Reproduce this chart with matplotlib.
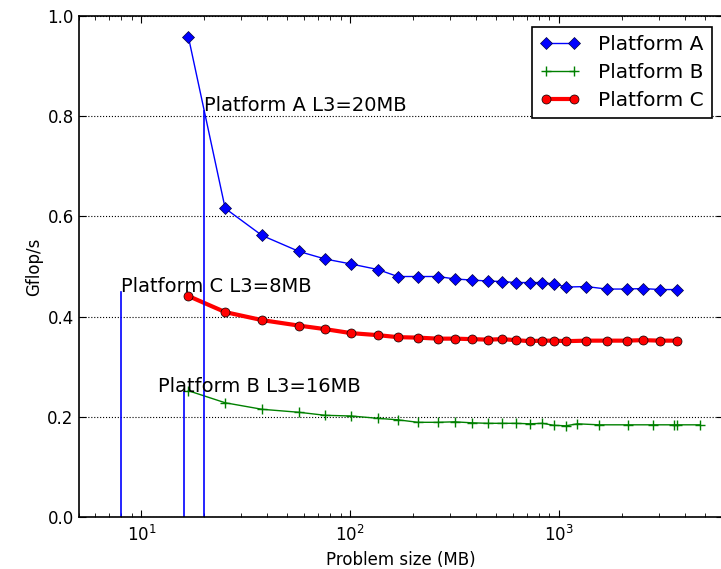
import matplotlib
matplotlib.use("Agg")
import matplotlib.pyplot as plt

# Data
size_ac = [16.8, 25.2, 37.8, 56.9, 75.8, 101, 135.5, 169, 211, 263, 319, 382, 457,
           533, 620, 724, 829, 946, 1085, 1353, 1688, 2105, 2528, 3041, 3657]
gflops_a = [0.958, 0.616, 0.562, 0.530, 0.515, 0.505, 0.494, 0.480, 0.480, 0.480,
            0.475, 0.473, 0.471, 0.470, 0.468, 0.468, 0.468, 0.465, 0.459, 0.460,
            0.455, 0.455, 0.456, 0.454, 0.454]
gflops_c = [0.441, 0.409, 0.393, 0.382, 0.375, 0.367, 0.363, 0.359, 0.358, 0.356,
            0.356, 0.355, 0.354, 0.355, 0.353, 0.351, 0.352, 0.352, 0.351, 0.352,
            0.352, 0.352, 0.353, 0.352, 0.352]
size_b = [16.8, 25.2, 37.8, 56.9, 75.8, 101, 135.5, 169, 211, 263, 316, 382, 457,
          533, 620, 724, 832, 946, 1077, 1225, 1550, 2128, 2823, 3550, 3656, 4729]
gflops_b = [0.252, 0.228, 0.215, 0.209, 0.203, 0.2016, 0.197, 0.194, 0.189, 0.189,
            0.190, 0.188, 0.187, 0.187, 0.187, 0.186, 0.187, 0.183, 0.182, 0.186,
            0.184, 0.184, 0.184, 0.184, 0.184, 0.184]

series_labels = ["Platform A", "Platform B", "Platform C"]

cache_x = [20, 8, 16]
cache_top = [0.81, 0.45, 0.25]
cache_text_x = [20, 8, 12]
cache_labels = ["Platform A L3=20MB", "Platform C L3=8MB", "Platform B L3=16MB"]

plt.rcParams['font.family'] = ['DejaVu Sans']
plt.rcParams['font.size'] = 12

W, H = 721, 569
fig = plt.figure(figsize=(W / 100, H / 100), dpi=100)
left_px, right_px, top_px, bottom_px = 78.5, 723.0, 16.0, 517.0
ax = fig.add_axes([left_px / W, 1 - bottom_px / H,
                   (right_px - left_px) / W, (bottom_px - top_px) / H])

ax.plot(size_ac, gflops_a, color='blue', marker='D', markersize=6, linewidth=1,
        markeredgecolor='#000040', markeredgewidth=0.5, label=series_labels[0])
ax.plot(size_b, gflops_b, color=(0, 0.5, 0), marker='+', markersize=7, linewidth=1,
        label=series_labels[1])
ax.plot(size_ac, gflops_c, color='red', marker='o', markersize=6.5, linewidth=3,
        markeredgecolor='black', markeredgewidth=0.5, label=series_labels[2])

for xv, top, tx, lab in zip(cache_x, cache_top, cache_text_x, cache_labels):
    ax.plot([xv, xv], [0, top], color='blue', linewidth=1.2)
    ax.text(tx, top, lab, fontsize=14, ha='left', va='baseline')

ax.set_xscale('log')
ax.set_xlim(5, 10 ** (3 + (right_px - 559.3) / 208.5))
ax.set_ylim(0, 1.0)
ax.set_yticks([0.0, 0.2, 0.4, 0.6, 0.8, 1.0])
ax.set_yticklabels(["0.0", "0.2", "0.4", "0.6", "0.8", "1.0"])
ax.yaxis.grid(True, linestyle=':', color='black', linewidth=0.8)
ax.tick_params(which='both', direction='in', top=True, right=True)
ax.tick_params(axis='y', which='major', length=5, pad=3.5)
ax.tick_params(axis='x', which='major', length=5, pad=6)
ax.tick_params(which='minor', length=3)
for s in ax.spines.values():
    s.set_linewidth(1.2)

ax.set_xlabel("Problem size (MB)")
ax.set_ylabel("Gflop/s", labelpad=3)

leg = ax.legend(loc='upper right', bbox_to_anchor=(711.7 / W, 1 - 26.7 / H),
                bbox_transform=fig.transFigure, borderaxespad=0, numpoints=2,
                fancybox=False, framealpha=1, fontsize=14.5, labelspacing=0.45,
                handlelength=2.0, handletextpad=0.88, borderpad=0.41)
leg.get_frame().set_edgecolor('black')
leg.get_frame().set_linewidth(1.2)

fig.savefig("out.png", dpi=100)
